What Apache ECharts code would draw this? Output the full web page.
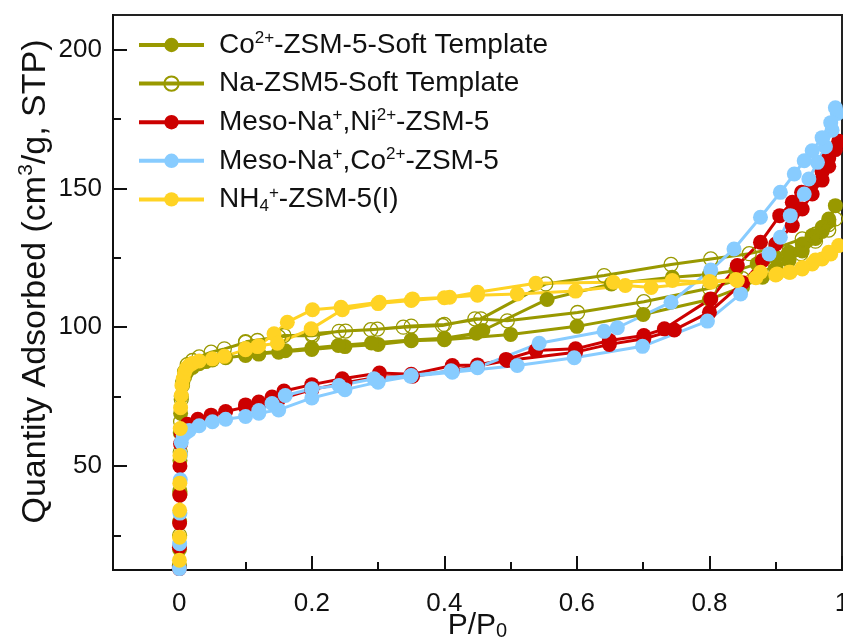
<!DOCTYPE html>
<html>
<head>
<meta charset="utf-8">
<script src="https://cdn.jsdelivr.net/npm/echarts@6/dist/echarts.min.js"></script>
<style>html,body{margin:0;padding:0;background:#fff}#c{width:843px;height:641px}</style>
</head>
<body>
<div id="c"></div>
<script>
// ---- data (P/P0, quantity adsorbed) : adsorption branch followed by desorption branch ----
const seriesNames = ['Co2+-ZSM-5-Soft Template', 'Na-ZSM5-Soft Template', 'Meso-Na+,Ni2+-ZSM-5', 'Meso-Na+,Co2+-ZSM-5', 'NH4+-ZSM-5(I)'];

const coSoftX = [0.0002,0.0004,0.0006,0.0008,0.001,0.0015,0.002,0.003,0.005,0.008,0.012,0.02,0.03,0.04,0.05,0.07,0.1,0.12,0.15,0.2,0.25,0.3,0.35,0.4,0.5,0.6,0.7,0.8,0.85,0.88,0.9,0.92,0.94,0.96,0.97,0.98,0.99,
  0.98,0.97,0.955,0.94,0.92,0.9,0.872,0.84,0.8,0.744,0.652,0.555,0.458,0.448,0.4,0.35,0.29,0.24,0.2,0.16,0.12,0.1];
const coSoftY = [12,20,30,41,52,62,69,75,79,82,84,85.5,86.8,87.6,88.2,89,89.8,90.3,91,92,93,93.8,95.1,95.5,97.4,100.3,104.6,110,114.5,118,121,124,127.5,132,134.5,138,143.8,
  139,136,133,130,127,125.2,122.8,120.4,119,118,115.6,110,98.8,97.8,96,95.4,94.3,93.4,92.5,91.5,90.6,90.2];

const naSoftX = [0.0002,0.0005,0.001,0.0015,0.002,0.003,0.005,0.008,0.012,0.02,0.03,0.048,0.068,0.1,0.118,0.158,0.201,0.241,0.289,0.338,0.397,0.446,0.495,0.601,0.701,0.8,0.85,0.9,0.938,0.96,0.98,0.99,
  0.98,0.96,0.94,0.9,0.86,0.802,0.742,0.641,0.553,0.455,0.4,0.35,0.299,0.251,0.2,0.15,0.1];
const naSoftY = [14,25,40,55,66,74,80,84,86.5,88,89.3,91,92.2,94.5,95.2,97,96.9,98.5,99.1,100,100.6,103,102.3,105.3,109.2,114,117.5,122,126.5,131,135,139,
  137,133.5,131.8,128.5,126.5,124.6,122.6,118.6,115.6,103,101,100.4,99.3,98.6,97.6,96.5,94.8];

const niMesoX = [0.0001,0.0003,0.0005,0.0008,0.001,0.002,0.003,0.006,0.012,0.028,0.048,0.07,0.1,0.12,0.15,0.2,0.25,0.3,0.352,0.412,0.45,0.495,0.598,0.649,0.701,0.747,0.8,0.85,0.88,0.9,0.925,0.94,0.955,0.97,0.98,0.99,
  0.995,0.98,0.97,0.955,0.939,0.925,0.906,0.877,0.842,0.802,0.732,0.701,0.649,0.598,0.538,0.493,0.45,0.412,0.35,0.302,0.246,0.2,0.158,0.14,0.12,0.1];
const niMesoY = [13,20.7,29.4,39.5,50,58,61.7,63.5,65,66.8,68.3,69.6,71.2,72.3,74,77.5,80,82,82.3,84.3,86,88,91,93.8,95.8,99,105.4,116,124,130,136.6,142.6,148,153,158,164,
  167,161,156,152,148.6,145,140.2,130.6,122.2,110.2,99.4,97,95.2,92.2,91.6,88.4,86.4,86.2,83,83.5,81.4,79.3,77,74.8,73,72];

const coMesoX = [0.0002,0.0005,0.001,0.0015,0.002,0.003,0.006,0.01,0.015,0.03,0.05,0.07,0.1,0.12,0.15,0.2,0.25,0.3,0.349,0.412,0.51,0.596,0.699,0.797,0.847,0.89,0.907,0.922,0.943,0.95,0.963,0.975,0.985,0.993,
  0.99,0.983,0.97,0.955,0.943,0.928,0.907,0.877,0.837,0.802,0.742,0.661,0.641,0.543,0.45,0.41,0.35,0.294,0.241,0.2,0.16,0.14,0.12];
const coMesoY = [13,22,33,45,54,58.5,61,62,62.8,64.5,65.9,66.8,67.8,69,70.2,74.5,77.5,80.2,82.3,83.8,86.2,89,93.1,102.2,112,126.4,132.4,140.2,148,153.4,159.4,165,171,177,
  179.1,173.7,168.3,163.6,160,155.2,148.6,139.6,128.2,120.6,109,99.8,98.5,94.2,85.4,84.3,82.6,81.4,79,77.8,75.4,72.5,70];

const nh4X = [0.0001,0.0002,0.0004,0.0006,0.0008,0.001,0.0015,0.002,0.003,0.004,0.006,0.008,0.011,0.015,0.02,0.03,0.05,0.068,0.1,0.118,0.143,0.163,0.201,0.244,0.302,0.352,0.408,0.45,0.538,0.655,0.744,0.802,0.842,0.877,0.902,0.922,0.94,0.955,0.97,0.983,0.995,
  0.98,0.96,0.94,0.92,0.9,0.87,0.84,0.8,0.712,0.673,0.598,0.51,0.45,0.4,0.35,0.3,0.246,0.199,0.148,0.12,0.1];
const nh4Y = [12,16,24.3,34,43.8,53.8,63.5,71,75.4,79,81.5,83.7,85.3,86.3,87,87.8,88.6,89.5,91.9,93,97.6,101.8,106.3,107.2,109,110.2,110.8,112.6,115.8,116.2,116.8,116.2,116.8,119.8,119.2,119.8,121,122.8,124.6,126.4,129.4,
  127,124.2,121.5,119.8,118.8,117.8,117.2,116.5,114.3,115,113,112,111.5,110.6,109.6,108.5,106.3,99.4,94.2,93.3,92.3];

const xTickLabels = [0, 0.2, 0.4, 0.6, 0.8, 1];
const xMinorTicks = [0.1, 0.3, 0.5, 0.7, 0.9];
const yTickLabels = [50, 100, 150, 200];
const yMinorTicks = [25, 75, 125, 175];

// ---- styles ----
const OLIVE = '#999900', RED = '#CC0000', BLUE = '#88CCFF', YELLOW = '#FFD324';
const FONT = 'Liberation Sans, Arial, sans-serif';
const INK = '#111';

function zip(xs, ys) { return xs.map((x, i) => [x, ys[i]]); }

function lineSeries(name, xs, ys, color, hollow) {
  return {
    name: name,
    type: 'line',
    data: zip(xs, ys),
    symbol: 'circle',
    symbolSize: hollow ? 14 : 15,
    showSymbol: true,
    clip: true,
    lineStyle: { color: color, width: 3 },
    itemStyle: hollow ? { color: 'rgba(255,255,255,0)', borderColor: color, borderWidth: 1.3 } : { color: color, borderWidth: 0 },
    emphasis: { disabled: true },
    animation: false,
    z: 2
  };
}

const legendLabels = {
  'Co2+-ZSM-5-Soft Template': 'Co{sup|2+}-ZSM-5-Soft Template',
  'Na-ZSM5-Soft Template': 'Na-ZSM5-Soft Template',
  'Meso-Na+,Ni2+-ZSM-5': 'Meso-Na{sup|+},Ni{sup|2+}-ZSM-5',
  'Meso-Na+,Co2+-ZSM-5': 'Meso-Na{sup|+},Co{sup|2+}-ZSM-5',
  'NH4+-ZSM-5(I)': 'NH{sub|4}{sup|+}-ZSM-5(I)'
};

const chart = echarts.init(document.getElementById('c'), null, { renderer: 'canvas' });
chart.setOption({
  animation: false,
  backgroundColor: '#fff',
  textStyle: { fontFamily: FONT },
  grid: { left: 113, top: 15, width: 729, height: 555, outerBoundsMode: 'none', containLabel: false, show: true, borderColor: '#222', borderWidth: 2, backgroundColor: 'transparent' },
  legend: {
    left: 137, top: 30, orient: 'vertical', padding: 0,
    itemWidth: 65, itemHeight: 18, itemGap: 8.6,
    data: seriesNames,
    formatter: n => legendLabels[n],
    lineStyle: { width: 4 },
    textStyle: {
      fontSize: 28, color: INK, fontFamily: FONT, lineHeight: 30, padding: [0, 0, 0, 10],
      rich: {
        sup: { fontSize: 17, verticalAlign: 'top', lineHeight: 17, fontFamily: FONT, color: INK },
        sub: { fontSize: 17, verticalAlign: 'bottom', lineHeight: 17, fontFamily: FONT, color: INK }
      }
    }
  },
  xAxis: [
    {
      type: 'value', min: -0.1, max: 1.0, position: 'bottom',
      name: 'P/P{sub|0}', nameLocation: 'middle', nameGap: 41, nameMoveOverlap: false,
      nameTextStyle: { fontSize: 30, color: INK, fontFamily: FONT, lineHeight: 30, verticalAlign: 'top', rich: { sub: { fontSize: 20, verticalAlign: 'bottom', lineHeight: 4, fontFamily: FONT, color: INK } } },
      axisLine: { show: true, onZero: false, lineStyle: { color: INK, width: 2 } },
      axisTick: { show: true, inside: true, length: 14, customValues: xTickLabels, lineStyle: { color: INK, width: 2 } },
      axisLabel: { show: true, customValues: xTickLabels, fontSize: 26, color: INK, margin: 21, fontFamily: FONT, showMaxLabel: true, hideOverlap: false },
      splitLine: { show: false }
    },
    {
      type: 'value', min: -0.1, max: 1.0, position: 'bottom', offset: 0,
      axisLine: { show: false, onZero: false },
      axisTick: { show: true, inside: true, length: 8, customValues: xMinorTicks, lineStyle: { color: INK, width: 2 } },
      axisLabel: { show: false, customValues: xMinorTicks },
      splitLine: { show: false }
    }
  ],
  yAxis: [
    {
      type: 'value', min: 12.5, max: 212.5, position: 'left',
      name: 'Quantity Adsorbed (cm{sup|3}/g, STP)', nameLocation: 'middle', nameGap: 57, nameRotate: 90, nameMoveOverlap: false,
      nameTextStyle: { fontSize: 34, color: INK, fontFamily: FONT, lineHeight: 40, padding: [0, 0, 0, 22], rich: { sup: { fontSize: 21, verticalAlign: 'top', lineHeight: 21, fontFamily: FONT, color: INK } } },
      axisLine: { show: true, onZero: false, lineStyle: { color: INK, width: 2 } },
      axisTick: { show: true, inside: true, length: 14, customValues: yTickLabels, lineStyle: { color: INK, width: 2 } },
      axisLabel: { show: true, customValues: yTickLabels, fontSize: 26, color: INK, margin: 11, fontFamily: FONT },
      splitLine: { show: false }
    },
    {
      type: 'value', min: 12.5, max: 212.5, position: 'left', offset: 0,
      axisLine: { show: false, onZero: false },
      axisTick: { show: true, inside: true, length: 8, customValues: yMinorTicks, lineStyle: { color: INK, width: 2 } },
      axisLabel: { show: false, customValues: yMinorTicks },
      splitLine: { show: false }
    }
  ],
  series: [
    lineSeries(seriesNames[0], coSoftX, coSoftY, OLIVE, false),
    lineSeries(seriesNames[1], naSoftX, naSoftY, OLIVE, true),
    lineSeries(seriesNames[2], niMesoX, niMesoY, RED, false),
    lineSeries(seriesNames[3], coMesoX, coMesoY, BLUE, false),
    lineSeries(seriesNames[4], nh4X, nh4Y, YELLOW, false)
  ]
});
</script>
</body>
</html>
